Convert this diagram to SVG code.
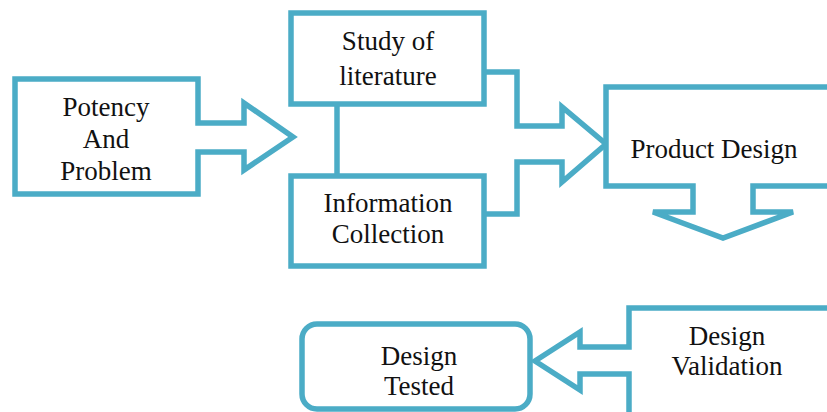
<svg xmlns="http://www.w3.org/2000/svg" width="827" height="412" viewBox="0 0 827 412">
  <style>
    .shape { fill: #ffffff; stroke: #4bacc6; stroke-width: 5.5; stroke-linejoin: miter; }
    .link { fill: none; stroke: #4bacc6; stroke-width: 5.5; stroke-linejoin: miter; }
    .label { font-family: "Liberation Serif", "Times New Roman", serif; font-size: 27px; fill: #111111; text-anchor: middle; }
  </style>
  <rect x="0" y="0" width="827" height="412" fill="#ffffff"/>

  <!-- connectors -->
  <g id="connectors">
    <line class="link" x1="337" y1="104" x2="337" y2="176"/>
    <polyline class="link" points="484,72 517,72 517,126 562,126 562,107 606,144 562,182 562,162 517,162 517,214 484,214"/>
  </g>

  <!-- Potency And Problem: box with a right-pointing block arrow -->
  <g id="potency">
    <polygon class="shape" points="15,79 198,79 198,123 244,123 244,103 293,137 244,170 244,152 198,152 198,194 15,194"/>
    <text class="label" x="106" y="116">Potency</text>
    <text class="label" x="106" y="148">And</text>
    <text class="label" x="106" y="180">Problem</text>
  </g>

  <g id="literature">
    <rect class="shape" x="291" y="13" width="193" height="91"/>
    <text class="label" x="388" y="50">Study of</text>
    <text class="label" x="388" y="85">literature</text>
  </g>

  <g id="information">
    <rect class="shape" x="291" y="176" width="193" height="90"/>
    <text class="label" x="388" y="212">Information</text>
    <text class="label" x="388" y="243">Collection</text>
  </g>

  <!-- Product Design: box with a downward block arrow -->
  <g id="product-design">
    <polygon class="shape" points="606,87 840,87 840,186 753,186 753,212 793,212 723,238 653,212 693,212 693,186 606,186"/>
    <text class="label" x="714" y="158">Product Design</text>
  </g>

  <!-- Design Validation: box with a left-pointing block arrow -->
  <g id="design-validation">
    <polygon class="shape" points="629,420 629,374 580,374 580,390 535,361 580,332 580,347 629,347 629,308 840,308 840,420"/>
    <text class="label" x="727" y="345">Design</text>
    <text class="label" x="727" y="375">Validation</text>
  </g>

  <g id="design-tested">
    <rect class="shape" x="302" y="324" width="228" height="85" rx="15" ry="15"/>
    <text class="label" x="419" y="365">Design</text>
    <text class="label" x="419" y="395">Tested</text>
  </g>
</svg>
